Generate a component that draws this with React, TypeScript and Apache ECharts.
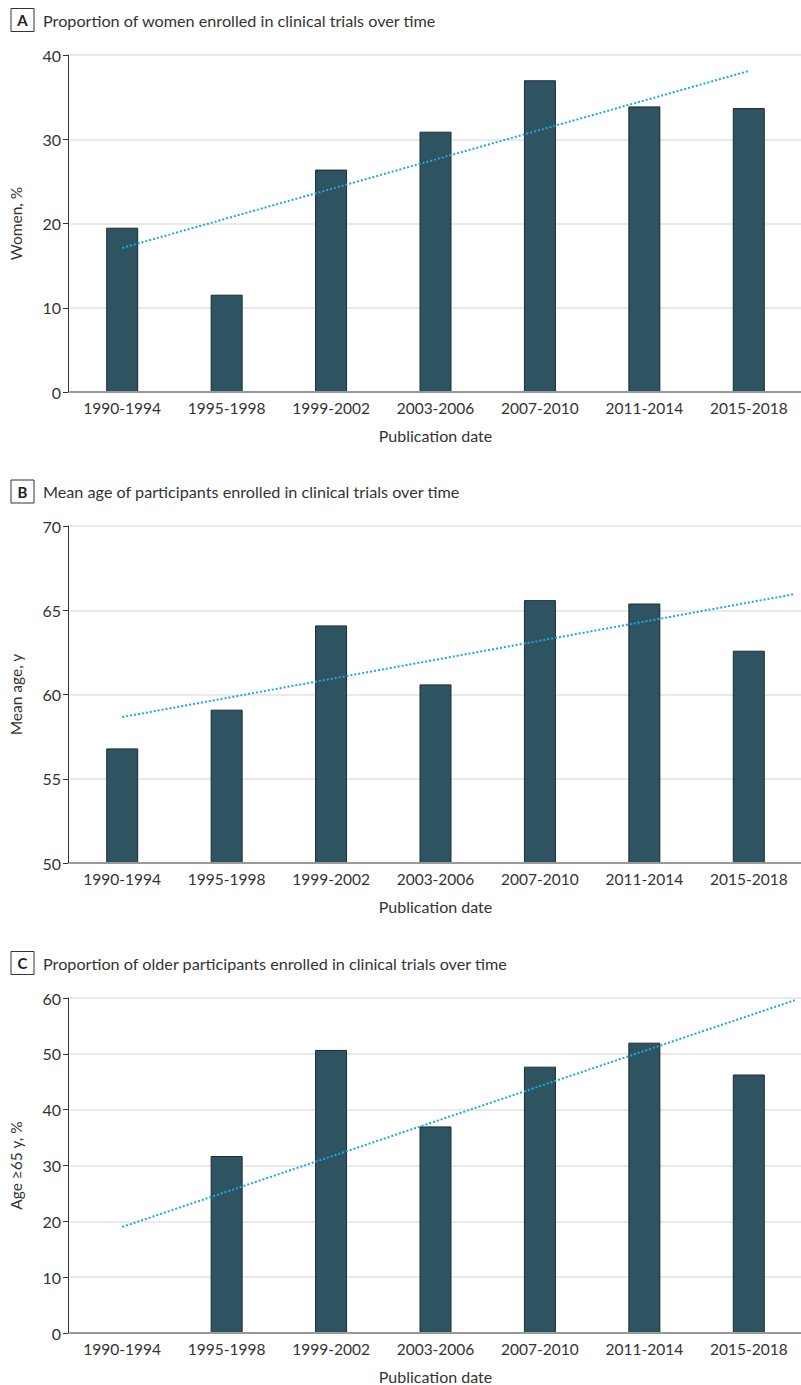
import React, { useEffect, useRef } from "react";
import * as echarts from "echarts";

const categories = ["1990-1994", "1995-1998", "1999-2002", "2003-2006", "2007-2010", "2011-2014", "2015-2018"];

const womenPct = [19.5, 11.55, 26.4, 30.9, 37.0, 33.9, 33.7];
const womenTrend: [number, number][] = [[0, 17.1], [6, 38.1]];

const meanAge = [56.8, 59.1, 64.1, 60.6, 65.6, 65.4, 62.6];
const ageTrend: [number, number][] = [[0, 58.66], [6.44, 65.96]];

const olderPct = [null, 31.7, 50.7, 37.0, 47.7, 52.0, 46.3];
const olderTrend: [number, number][] = [[0, 19.0], [6.44, 59.6]];

const panelTitles = [
  { letter: "A", text: "Proportion of women enrolled in clinical trials over time" },
  { letter: "B", text: "Mean age of participants enrolled in clinical trials over time" },
  { letter: "C", text: "Proportion of older participants enrolled in clinical trials over time" },
];

const yAxes = [
  { name: "Women, %", min: 0, max: 40, interval: 10 },
  { name: "Mean age, y", min: 50, max: 70, interval: 5 },
  { name: "Age ≥65 y, %", min: 0, max: 60, interval: 10 },
];

const FONT = "Lato";

export default function App() {
  const ref = useRef<HTMLDivElement>(null);
  useEffect(() => {
    if (!ref.current) return;
    const chart = echarts.init(ref.current, null, { renderer: "svg" });
    const gridTops = [55, 526, 998];
    const gridH = 337;
    const grids = gridTops.map((t) => ({ left: 65, right: -6, top: t, height: gridH }));

    const xAxis: any[] = [];
    const yAxis: any[] = [];
    gridTops.forEach((_, i) => {
      xAxis.push({
        type: "category",
        gridIndex: i,
        data: categories,
        name: "Publication date",
        nameLocation: "middle",
        nameGap: 35,
        nameTextStyle: { fontFamily: FONT, fontSize: 16, color: "#333" },
        axisLine: { show: true, onZero: false, lineStyle: { color: "#999", width: 2 } },
        axisTick: { show: false },
        axisLabel: { fontFamily: FONT, fontSize: 15.5, color: "#333", margin: 8, interval: 0, hideOverlap: false },
        z: 5,
      });
      xAxis.push({
        type: "value",
        gridIndex: i,
        min: -0.5,
        max: 6.5,
        show: false,
        axisLine: { onZero: false },
      });
      const y = yAxes[i];
      yAxis.push({
        type: "value",
        gridIndex: i,
        min: y.min,
        max: y.max,
        interval: y.interval,
        offset: 2,
        name: y.name,
        nameLocation: "middle",
        nameGap: 44,
        nameTextStyle: { fontFamily: FONT, fontSize: 15.5, color: "#333" },
        axisLine: { show: true, onZero: false, lineStyle: { color: "#333", width: 1 } },
        axisTick: { show: true, length: 5, lineStyle: { color: "#333" } },
        axisLabel: { fontFamily: FONT, fontSize: 16, color: "#333", margin: 7 },
        splitLine: { show: true, lineStyle: { color: "#e2e2e2", width: 1.5 } },
      });
    });

    const barData = [womenPct, meanAge, olderPct];
    const trendData = [womenTrend, ageTrend, olderTrend];
    const series: any[] = [];
    barData.forEach((d, i) => {
      series.push({
        type: "bar",
        xAxisIndex: i * 2,
        yAxisIndex: i,
        data: d,
        barWidth: 32,
        itemStyle: { color: "#2f5461", borderColor: "#1e2a30", borderWidth: 1 },
        z: 2,
      });
      series.push({
        type: "line",
        xAxisIndex: i * 2 + 1,
        yAxisIndex: i,
        data: trendData[i],
        showSymbol: false,
        symbol: "none",
        lineStyle: { color: "#1ea8e0", width: 2, type: [2, 2] },
        z: 3,
      });
    });

    const graphic: any[] = [];
    panelTitles.forEach((p, i) => {
      const cy = 20 + i * 471.5;
      graphic.push({
        type: "rect",
        shape: { x: 11, y: cy - 11.5, width: 23, height: 23 },
        style: { fill: "#fff", stroke: "#333", lineWidth: 1 },
      });
      graphic.push({
        type: "text",
        x: 22.5,
        y: cy,
        style: {
          text: p.letter,
          fontFamily: FONT,
          fontWeight: "bold",
          fontSize: 15,
          fill: "#222",
          align: "center",
          verticalAlign: "middle",
        },
      });
      graphic.push({
        type: "text",
        x: 43,
        y: cy,
        style: {
          text: p.text,
          fontFamily: FONT,
          fontSize: 16.2,
          fill: "#333",
          align: "left",
          verticalAlign: "middle",
        },
      });
    });

    chart.setOption({
      animation: false,
      backgroundColor: "#fff",
      grid: grids,
      xAxis,
      yAxis,
      series,
      graphic,
    });
    return () => chart.dispose();
  }, []);
  return (
    <div
      ref={ref}
      style={{ position: "absolute", left: 0, top: 0, width: 801, height: 1385 }}
    />
  );
}
